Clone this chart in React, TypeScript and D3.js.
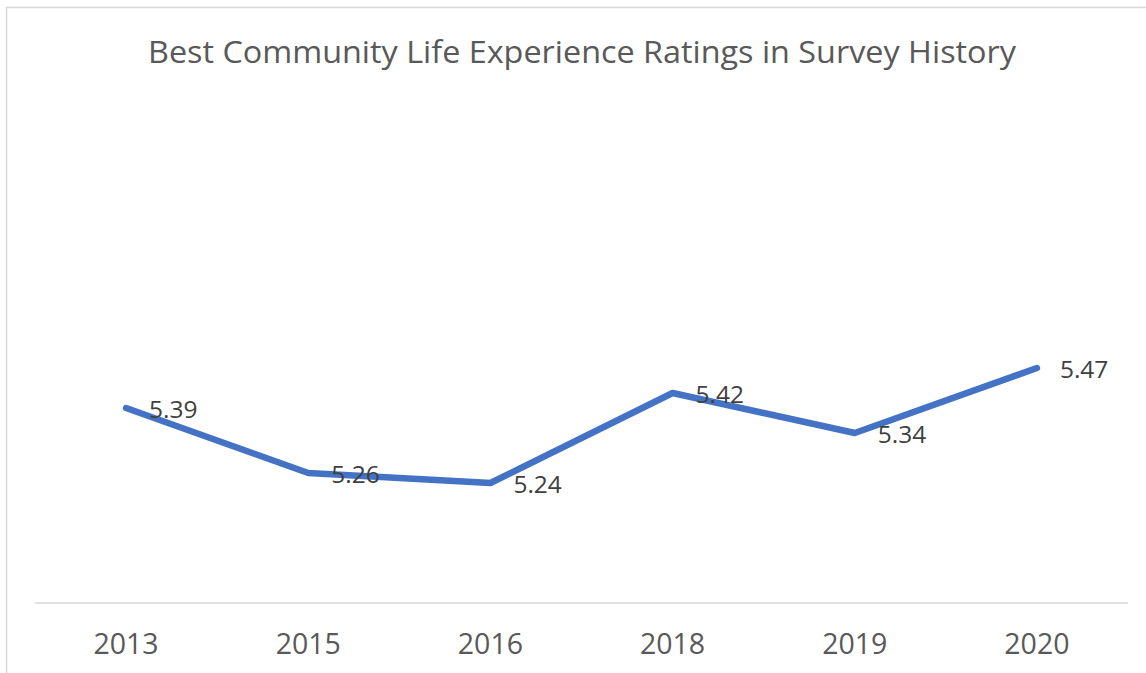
import React from "react";
import * as d3 from "d3";

const years = ["2013", "2015", "2016", "2018", "2019", "2020"];
const ratings = [5.39, 5.26, 5.24, 5.42, 5.34, 5.47];
const yDomain = [5, 6];
const title = "Best Community Life Experience Ratings in Survey History";

export default function App() {
  const W = 1146;
  const H = 673;
  const x = d3.scaleBand<string>().domain(years).range([35, 1128]);
  const y = d3.scaleLinear().domain(yDomain).range([603, 103]);
  const cx = (d: string) => (x(d) as number) + x.bandwidth() / 2;
  const pts: [number, number][] = years.map((yr, i) => [cx(yr), y(ratings[i])]);
  const line = d3.line()(pts) as string;
  const font = "'Open Sans', 'Noto Sans', sans-serif";
  return (
    <svg
      width={W}
      height={H}
      style={{ position: "absolute", left: 0, top: 0, background: "#fff" }}
    >
      <rect x={6.5} y={7.5} width={W + 10} height={H + 10} fill="#fff" stroke="#d9d9d9" strokeWidth={1.5} />
      <text
        x={582}
        y={63}
        textAnchor="middle"
        fontFamily={font}
        fontSize={31.5}
        fill="#595959"
        textLength={868}
        lengthAdjust="spacingAndGlyphs"
      >
        {title}
      </text>
      <line x1={35} x2={1128} y1={603} y2={603} stroke="#d9d9d9" strokeWidth={1.5} />
      {years.map((yr) => (
        <text key={yr} x={cx(yr)} y={654} textAnchor="middle" fontFamily={font} fontSize={28.5} fill="#595959">
          {yr}
        </text>
      ))}
      <path d={line} fill="none" stroke="#4472C4" strokeWidth={6.5} strokeLinecap="round" strokeLinejoin="round" />
      {years.map((yr, i) => (
        <text
          key={"l" + yr}
          x={cx(yr) + 23}
          y={y(ratings[i]) + 10}
          fontFamily={font}
          fontSize={24.5}
          fill="#404040"
        >
          {ratings[i].toFixed(2)}
        </text>
      ))}
    </svg>
  );
}
